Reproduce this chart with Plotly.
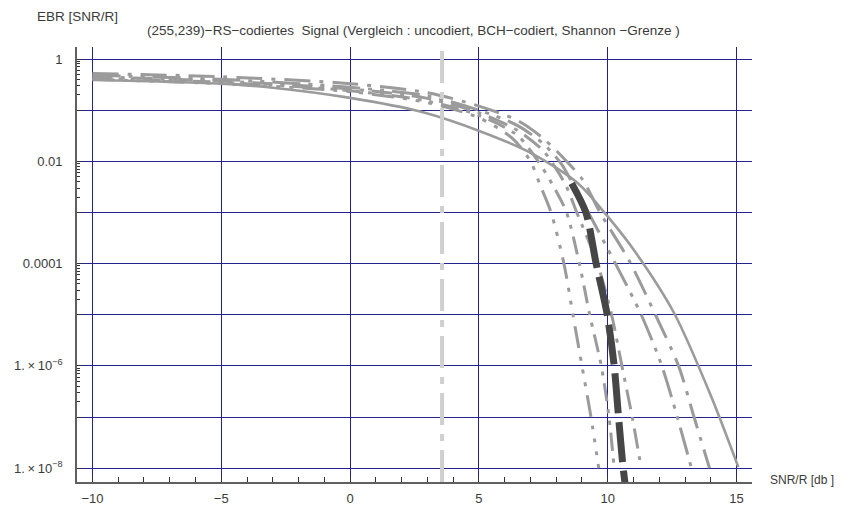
import plotly.graph_objects as go

# ---------------- data ----------------
# solid curve (uncodiert)
s_x = [-10, -5, -3, 0, 2.76, 5.09, 7.03, 8.85, 10.02, 11.03, 12.58, 14.02, 15.07]
s_y = [0.39, 0.33, 0.275, 0.174, 0.093, 0.038, 0.0145, 0.0037, 8.1e-4, 1.8e-4, 1.07e-5, 2.5e-7, 1.05e-8]

# dash-dot curve ending near 14 dB
a_x = [-10, -5, 0, 3, 5, 6.5, 7.5, 8.5, 9.05, 9.7, 10.85, 11.85, 12.75, 13.35, 13.95]
a_y = [0.52, 0.45, 0.33, 0.22, 0.12, 0.063, 0.028, 0.0089, 0.0042, 1.0e-3, 1.1e-4, 1.0e-5, 1.0e-6, 1.0e-7, 1.0e-8]

# dash-dot-dot curve ending near 13.3 dB
b_x = [-10, -5, 0, 3, 5, 6.5, 7.5, 8.2, 8.7, 9.25, 10.3, 11.3, 12.1, 12.7, 13.25]
b_y = [0.48, 0.40, 0.28, 0.19, 0.10, 0.050, 0.022, 0.0089, 0.0032, 1.0e-3, 1.0e-4, 1.0e-5, 1.0e-6, 1.0e-7, 1.0e-8]

# dash-dot curve ending near 11.3 dB
c_x = [-10, -5, 0, 3, 5, 6.5, 7.5, 8.0, 8.4, 8.8, 9.6, 10.15, 10.55, 10.95, 11.3]
c_y = [0.45, 0.37, 0.26, 0.17, 0.089, 0.040, 0.016, 0.0071, 0.0032, 1.0e-3, 1.0e-4, 1.0e-5, 1.0e-6, 1.0e-7, 1.0e-8]

# dotted curves ending near 10.2 dB and 9.65 dB
e2_x = [-10, -5, 0, 3, 5, 6.5, 7.3, 7.9, 8.4, 8.9, 9.3, 9.75, 10.05, 10.25]
e2_y = [0.42, 0.35, 0.24, 0.15, 0.079, 0.032, 0.010, 0.0032, 1.0e-3, 1.0e-4, 1.0e-5, 1.0e-6, 1.0e-7, 1.0e-8]

e1_x = [-10, -5, 0, 3, 5, 6.3, 7.0, 7.4, 7.8, 8.3, 8.65, 9.0, 9.35, 9.65]
e1_y = [0.40, 0.33, 0.23, 0.14, 0.071, 0.028, 0.010, 0.0032, 1.0e-3, 1.0e-4, 1.0e-5, 1.0e-6, 1.0e-7, 1.0e-8]

# thick dark dashed curve
d_x = [8.6, 9.15, 9.55, 9.98, 10.25, 10.42, 10.6, 10.7]
d_y = [3.7e-3, 1.0e-3, 1.0e-4, 1.0e-5, 1.0e-6, 1.0e-7, 1.0e-8, 4.0e-9]

# Shannon limit [dB]
shannon_db = 3.57

# axis ticks
x_ticks = [-10, -5, 0, 5, 10, 15]
x_labels = ["\u221210", "\u22125", "0", "5", "10", "15"]
y_ticks = [1, 1e-1, 1e-2, 1e-3, 1e-4, 1e-5, 1e-6, 1e-7, 1e-8]
y_labels = ["1", "", "0.01", "", "0.0001", "",
            "1.\u2009\u00d7\u200910<sup>\u22126</sup>", "",
            "1.\u2009\u00d7\u200910<sup>\u22128</sup>"]
title_text = "(255,239)\u2212RS\u2212codiertes  Signal (Vergleich : uncodiert, BCH\u2212codiert, Shannon \u2212Grenze )"

# ---------------- figure ----------------
GRAY = "#9b9b9b"
FONT = "Liberation Sans, Arial, sans-serif"
TXT = "#3a3a3a"

fig = go.Figure()

def add(x, y, dash, color=GRAY, width=3):
    fig.add_trace(go.Scatter(x=x, y=y, mode="lines",
                             line=dict(color=color, width=width, dash=dash,
                                       shape="spline", smoothing=0.8),
                             hoverinfo="skip", showlegend=False))

add(s_x, s_y, "solid", width=2.6)
add(a_x, a_y, "26px,9px,4px,9px")
add(b_x, b_y, "28px,8px,4px,8px,4px,8px")
add(c_x, c_y, "20px,8px,4px,8px")
add(e2_x, e2_y, "18px,8px,4px,8px,4px,8px")
add(e1_x, e1_y, "22px,9px,4px,9px,4px,9px,4px,9px")
add(d_x, d_y, "40px,9px", color="#464646", width=7)

fig.add_vline(x=shannon_db, line=dict(color="#cfcfcf", width=4, dash="32px,9px,7px,9px"),
              layer="above")

# minor tick positions on the log axis (2..9 in labelled decades)
minor_y = []
for e in [0, -2, -4, -6]:
    for m in range(2, 10):
        minor_y.append(m * 10 ** (e - 1))

fig.update_xaxes(range=[-10.6, 15.6], tickvals=x_ticks, ticktext=x_labels,
                 automargin=False,
                 showgrid=True, gridcolor="#23238e", gridwidth=1.2,
                 showline=True, linecolor="#606060", linewidth=1.6,
                 ticks="inside", ticklen=5, tickcolor="#333", zeroline=False,
                 ticklabelstandoff=4,
                 minor=dict(dtick=1, ticks="inside", ticklen=5, tickcolor="#333", showgrid=False),
                 tickfont=dict(family=FONT, size=13, color=TXT))
fig.update_yaxes(type="log", range=[-8.27, 0.235], tickvals=y_ticks, ticktext=y_labels,
                 automargin=False,
                 showgrid=True, gridcolor="#23238e", gridwidth=1.2,
                 showline=True, linecolor="#606060", linewidth=1.6,
                 ticks="inside", ticklen=5, tickcolor="#333", zeroline=False,
                 ticklabelstandoff=10,
                 minor=dict(tickmode="array", tickvals=minor_y, ticks="inside", ticklen=3,
                            tickcolor="#333", showgrid=False),
                 tickfont=dict(family=FONT, size=13, color=TXT))

fig.add_annotation(text="EBR [SNR/R]", xref="paper", yref="paper", x=-0.0622, y=1.069,
                   xanchor="left", yanchor="middle", showarrow=False,
                   font=dict(family=FONT, size=13.5, color=TXT))
fig.add_annotation(text=title_text, xref="paper", yref="paper", x=0.1007, y=1.039,
                   xanchor="left", yanchor="middle", showarrow=False,
                   font=dict(family=FONT, size=13.5, color=TXT))
fig.add_annotation(text="SNR/R [db ]", xref="paper", yref="paper", x=1.0237, y=0.004,
                   xanchor="left", yanchor="middle", showarrow=False,
                   font=dict(family=FONT, size=12, color=TXT))

# the page places the figure 8px from the top-left corner of the window
fig.update_layout(width=845, height=509, margin=dict(l=69, r=101, t=39, b=35),
                  plot_bgcolor="white", paper_bgcolor="white", showlegend=False)

fig.write_html("out.html")
